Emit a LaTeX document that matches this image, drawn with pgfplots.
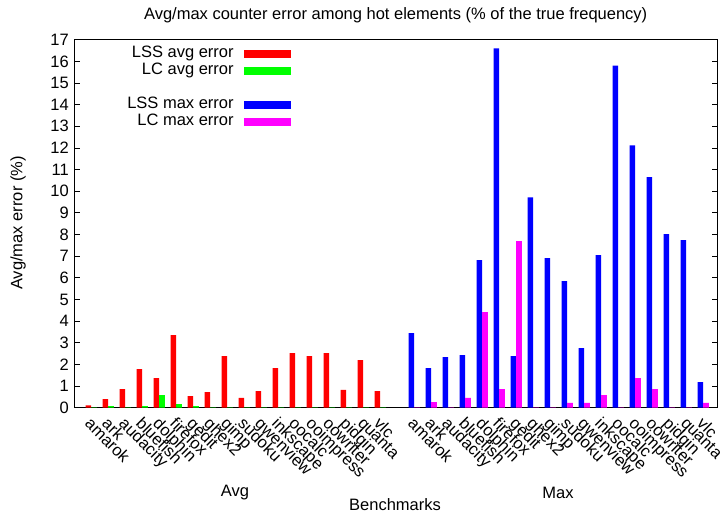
\documentclass[border=0pt]{standalone}
\usepackage{fontspec}
\setmainfont{Liberation Sans}
\usepackage{pgfplots}
\pgfplotsset{compat=1.18}
\definecolor{cred}{HTML}{FF0000}
\definecolor{cgreen}{HTML}{00FF00}
\definecolor{cblue}{HTML}{0000FF}
\definecolor{cmag}{HTML}{FF00FF}
\begin{document}
\begin{tikzpicture}[font=\fontsize{16.5}{19}\selectfont]
\useasboundingbox (-74pt,-105.3pt) rectangle (652pt,407.7pt);
\begin{axis}[
  at={(0pt,0pt)}, anchor=south west,
  scale only axis, width=643.5pt, height=368pt,
  xmin=-1.01, xmax=36.84, ymin=0, ymax=17,
  ytick={0,1,...,17},
  /pgf/number format/assume math mode=true,
  ybar, bar width=0.3333,
  xtick={0,1,...,17,19,20,...,36},
  xticklabels={amarok,ark,audacity,bluefish,dolphin,firefox,gedit,ghex2,gimp,sudoku,gwenview,inkscape,oocalc,ooimpress,oowriter,pidgin,quanta,vlc,
               amarok,ark,audacity,bluefish,dolphin,firefox,gedit,ghex2,gimp,sudoku,gwenview,inkscape,oocalc,ooimpress,oowriter,pidgin,quanta,vlc},
  xticklabel style={rotate=-45, anchor=north west, inner sep=0pt, xshift=7pt, yshift=-5pt},
  x tick style={draw=none},
  y tick style={black, line width=0.8pt},
  major tick length=6pt,
  tick align=inside,
  ytick pos=both,
  yticklabel style={inner sep=0pt, xshift=-5pt},
  axis line style={black, line width=0.9pt},
  legend style={at={(0.337,0.9856)}, anchor=north east, draw=none, fill=none,
    inner sep=0pt, row sep=0pt, cells={anchor=east}, legend plot pos=right,
    nodes={inner sep=0pt, text height=12pt, text depth=5pt}},
  legend image code/.code={\fill[#1, draw=none] (10pt,-4pt) rectangle (57pt,4pt);},
]
\addplot[fill=cred, draw=none, bar shift=-0.1667] coordinates {
(0,0.11) (1,0.40) (2,0.86) (3,1.78) (4,1.37) (5,3.35) (6,0.54) (7,0.72) (8,2.38)
(9,0.45) (10,0.77) (11,1.83) (12,2.52) (13,2.38) (14,2.52) (15,0.82) (16,2.20) (17,0.77)};
\addlegendentry{LSS avg error}
\addplot[fill=cgreen, draw=none, bar shift=0.1667] coordinates {
(0,0.01) (1,0.07) (2,0.01) (3,0.07) (4,0.58) (5,0.17) (6,0.07) (7,0.01) (8,0.01)
(9,0.01) (10,0.01) (11,0.01) (12,0.01) (13,0.01) (14,0.01) (15,0.01) (16,0.01) (17,0.01)};
\addlegendentry{LC avg error}
\addlegendimage{empty legend}
\addlegendentry{\strut}
\addplot[fill=cblue, draw=none, bar shift=-0.1667] coordinates {
(19,3.45) (20,1.83) (21,2.34) (22,2.43) (23,6.82) (24,16.6) (25,2.38) (26,9.72) (27,6.91)
(28,5.85) (29,2.75) (30,7.05) (31,15.8) (32,12.12) (33,10.65) (34,8.02) (35,7.74) (36,1.18)};
\addlegendentry{LSS max error}
\addplot[fill=cmag, draw=none, bar shift=0.1667] coordinates {
(19,0.01) (20,0.26) (21,0.01) (22,0.45) (23,4.42) (24,0.86) (25,7.69) (26,0.01) (27,0.01)
(28,0.22) (29,0.22) (30,0.58) (31,0.01) (32,1.37) (33,0.86) (34,0.01) (35,0.01) (36,0.22)};
\addlegendentry{LC max error}
\end{axis}
\node at (321.7pt,392.7pt) {Avg/max counter error among hot elements (\% of the true frequency)};
\node[rotate=90] at (-56pt,184.7pt) {Avg/max error (\%)};
\node at (321pt,-96.5pt) {Benchmarks};
\node at (161pt,-85.3pt) {Avg};
\node at (484pt,-85.3pt) {Max};
\end{tikzpicture}
\end{document}
